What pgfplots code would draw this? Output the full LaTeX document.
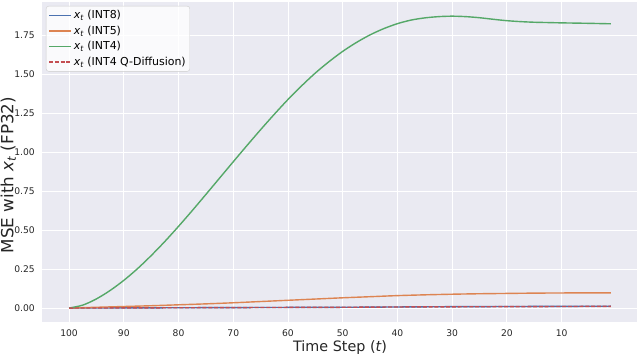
\documentclass[border=0pt]{standalone}
\usepackage{pgfplots}
\pgfplotsset{compat=1.18}
\usepackage{fontspec}
\setmainfont{DejaVu Sans}

\definecolor{sbblue}{HTML}{4C72B0}
\definecolor{sborange}{HTML}{DD8452}
\definecolor{sbgreen}{HTML}{55A868}
\definecolor{sbred}{HTML}{C44E52}
\definecolor{sbbg}{HTML}{EAEAF2}
\definecolor{sbtext}{HTML}{262626}
\definecolor{sbedge}{HTML}{CCCCCC}

\newcommand{\xt}{{\itshape x}\textsubscript{\itshape t}}

\begin{document}
\begin{tikzpicture}
\begin{axis}[
    scale only axis,
    width=596bp, height=321bp,
    x dir=reverse,
    xmin=-3.95, xmax=104.95,
    ymin=-0.094, ymax=1.968,
    xtick={10,20,...,100},
    ytick={0,0.25,...,1.75},
    /pgf/number format/assume math mode=true,
    yticklabel style={/pgf/number format/fixed, /pgf/number format/fixed zerofill,
        /pgf/number format/precision=2},
    xticklabel style={inner sep=0pt, yshift=-7bp},
    yticklabel style={inner sep=0pt, xshift=-7bp},
    ticklabel style={font=\fontsize{9.2}{11}\selectfont, text=sbtext},
    major tick length=0pt,
    axis background/.style={fill=sbbg},
    axis line style={white, line width=1bp},
    grid=major,
    grid style={white, line width=1bp},
    xlabel={Time Step ({\itshape t})},
    ylabel={MSE with \xt\ (FP32)},
    label style={text=sbtext},
    xlabel style={font=\fontsize{14.4}{17}\selectfont,
        at={(axis description cs:0.5,-0.089)}, anchor=base},
    ylabel style={font=\fontsize{16.8}{20}\selectfont,
        at={(axis description cs:-0.0482,0.46)}, anchor=base},
    legend cell align=left,
    legend style={at={(axis description cs:0,1)}, anchor=north west,
        xshift=4bp, yshift=-4.3bp,
        fill=white, fill opacity=0.8, text opacity=1,
        draw=sbedge, rounded corners=2.5bp,
        inner xsep=2bp, inner ysep=2.4bp, row sep=1.7bp,
        nodes={inner sep=2bp},
        font=\fontsize{11}{13}\selectfont},
    /tikz/every even column/.append style={column sep=4bp},
    every axis plot/.append style={line width=1.4bp},
]
\coordinate (ll) at (rel axis cs:0,0);
\coordinate (ur) at (rel axis cs:1,1);

% INT8
\addplot[sbblue, smooth, legend image code/.code={
    \draw[sbblue, line width=1.7bp] (0bp,0bp) -- (22bp,0bp);}] coordinates {
(100,0.000) (90,0.001) (80,0.002) (70,0.003) (60,0.004) (50,0.005)
(40,0.007) (30,0.009) (20,0.010) (10,0.011) (1,0.012)
};
\addlegendentry{\xt\ (INT8)}

% INT5
\addplot[sborange, smooth, legend image code/.code={
    \draw[sborange, line width=1.7bp] (0bp,0bp) -- (22bp,0bp);}] coordinates {
(100,0.000) (95,0.005) (90,0.010) (85,0.015) (80,0.021) (75,0.027)
(70,0.034) (65,0.042) (60,0.050) (55,0.058) (50,0.066) (45,0.073)
(40,0.080) (35,0.085) (30,0.089) (25,0.092) (20,0.094) (15,0.096)
(10,0.097) (5,0.098) (1,0.098)
};
\addlegendentry{\xt\ (INT5)}

% INT4
\addplot[sbgreen, smooth, legend image code/.code={
    \draw[sbgreen, line width=1.7bp] (0bp,0bp) -- (22bp,0bp);}] coordinates {
(100,0.000) (97.5,0.019) (95,0.059) (92.5,0.113) (90,0.178) (87.5,0.253)
(85,0.337) (82.5,0.428) (80,0.525) (77.5,0.626) (75,0.730) (72.5,0.835)
(70,0.940) (67.5,1.044) (65,1.146) (62.5,1.245) (60,1.340) (57.5,1.428)
(55,1.510) (52.5,1.583) (50,1.649) (47.5,1.706) (45,1.755) (42.5,1.795)
(40,1.827) (37.5,1.850) (35,1.864) (32.5,1.872) (30,1.875) (27.5,1.872)
(25,1.865) (22.5,1.855) (20,1.846) (17.5,1.840) (15,1.836) (12.5,1.834)
(10,1.832) (5,1.829) (1,1.826)
};
\addlegendentry{\xt\ (INT4)}

% INT4 Q-Diffusion
\addplot[sbred, smooth, dash pattern=on 4bp off 1.8bp, legend image code/.code={
    \draw[sbred, line width=1.5bp, dash pattern=on 4bp off 1.8bp]
    (0bp,0bp) -- (22bp,0bp);}] coordinates {
(100,0.000) (90,0.001) (80,0.002) (70,0.003) (60,0.004) (50,0.005)
(40,0.007) (30,0.008) (20,0.009) (10,0.010) (1,0.011)
};
\addlegendentry{\xt\ (INT4 Q-Diffusion)}
\end{axis}
\pgfresetboundingbox
\path ([shift={(-42bp,-31.3bp)}]ll) rectangle ([shift={(2bp,1.7bp)}]ur);
\end{tikzpicture}
\end{document}
